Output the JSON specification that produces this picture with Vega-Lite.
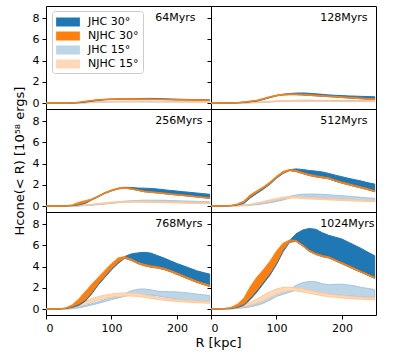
{
"$schema": "https://vega.github.io/schema/vega-lite/v6.json",
"padding": {"left": 12, "top": 5, "right": 5, "bottom": 5},
"bounds": "flush",
"spacing": 0,
"columns": 2,
"data": {"values": [
{"t":"64Myrs","s":"JHC 30°","R":0,"lo":0,"hi":0.01},{"t":"64Myrs","s":"JHC 30°","R":10,"lo":0,"hi":0.01},{"t":"64Myrs","s":"JHC 30°","R":20,"lo":0,"hi":0.01},{"t":"64Myrs","s":"JHC 30°","R":30,"lo":0,"hi":0.01},{"t":"64Myrs","s":"JHC 30°","R":40,"lo":0.01,"hi":0.02},{"t":"64Myrs","s":"JHC 30°","R":50,"lo":0.04,"hi":0.06},{"t":"64Myrs","s":"JHC 30°","R":60,"lo":0.1,"hi":0.13},{"t":"64Myrs","s":"JHC 30°","R":70,"lo":0.18,"hi":0.22},{"t":"64Myrs","s":"JHC 30°","R":80,"lo":0.26,"hi":0.3},{"t":"64Myrs","s":"JHC 30°","R":90,"lo":0.31,"hi":0.35},{"t":"64Myrs","s":"JHC 30°","R":100,"lo":0.34,"hi":0.38},{"t":"64Myrs","s":"JHC 30°","R":110,"lo":0.36,"hi":0.4},{"t":"64Myrs","s":"JHC 30°","R":120,"lo":0.37,"hi":0.41},{"t":"64Myrs","s":"JHC 30°","R":130,"lo":0.37,"hi":0.42},{"t":"64Myrs","s":"JHC 30°","R":140,"lo":0.37,"hi":0.43},{"t":"64Myrs","s":"JHC 30°","R":150,"lo":0.37,"hi":0.45},{"t":"64Myrs","s":"JHC 30°","R":160,"lo":0.36,"hi":0.45},{"t":"64Myrs","s":"JHC 30°","R":170,"lo":0.35,"hi":0.44},{"t":"64Myrs","s":"JHC 30°","R":180,"lo":0.34,"hi":0.42},{"t":"64Myrs","s":"JHC 30°","R":190,"lo":0.33,"hi":0.4},{"t":"64Myrs","s":"JHC 30°","R":200,"lo":0.31,"hi":0.38},{"t":"64Myrs","s":"JHC 30°","R":210,"lo":0.3,"hi":0.36},{"t":"64Myrs","s":"JHC 30°","R":220,"lo":0.29,"hi":0.34},{"t":"64Myrs","s":"JHC 30°","R":230,"lo":0.28,"hi":0.33},{"t":"64Myrs","s":"JHC 30°","R":240,"lo":0.27,"hi":0.32},{"t":"64Myrs","s":"JHC 30°","R":250,"lo":0.26,"hi":0.31},
{"t":"64Myrs","s":"NJHC 30°","R":0,"lo":0,"hi":0.01},{"t":"64Myrs","s":"NJHC 30°","R":10,"lo":0,"hi":0.01},{"t":"64Myrs","s":"NJHC 30°","R":20,"lo":0,"hi":0.01},{"t":"64Myrs","s":"NJHC 30°","R":30,"lo":0,"hi":0.02},{"t":"64Myrs","s":"NJHC 30°","R":40,"lo":0.02,"hi":0.04},{"t":"64Myrs","s":"NJHC 30°","R":50,"lo":0.07,"hi":0.1},{"t":"64Myrs","s":"NJHC 30°","R":60,"lo":0.15,"hi":0.19},{"t":"64Myrs","s":"NJHC 30°","R":70,"lo":0.23,"hi":0.27},{"t":"64Myrs","s":"NJHC 30°","R":80,"lo":0.3,"hi":0.34},{"t":"64Myrs","s":"NJHC 30°","R":90,"lo":0.34,"hi":0.38},{"t":"64Myrs","s":"NJHC 30°","R":100,"lo":0.36,"hi":0.4},{"t":"64Myrs","s":"NJHC 30°","R":110,"lo":0.37,"hi":0.41},{"t":"64Myrs","s":"NJHC 30°","R":120,"lo":0.37,"hi":0.41},{"t":"64Myrs","s":"NJHC 30°","R":130,"lo":0.37,"hi":0.41},{"t":"64Myrs","s":"NJHC 30°","R":140,"lo":0.36,"hi":0.4},{"t":"64Myrs","s":"NJHC 30°","R":150,"lo":0.36,"hi":0.4},{"t":"64Myrs","s":"NJHC 30°","R":160,"lo":0.35,"hi":0.39},{"t":"64Myrs","s":"NJHC 30°","R":170,"lo":0.34,"hi":0.38},{"t":"64Myrs","s":"NJHC 30°","R":180,"lo":0.33,"hi":0.37},{"t":"64Myrs","s":"NJHC 30°","R":190,"lo":0.31,"hi":0.35},{"t":"64Myrs","s":"NJHC 30°","R":200,"lo":0.3,"hi":0.34},{"t":"64Myrs","s":"NJHC 30°","R":210,"lo":0.29,"hi":0.33},{"t":"64Myrs","s":"NJHC 30°","R":220,"lo":0.28,"hi":0.32},{"t":"64Myrs","s":"NJHC 30°","R":230,"lo":0.27,"hi":0.31},{"t":"64Myrs","s":"NJHC 30°","R":240,"lo":0.26,"hi":0.3},{"t":"64Myrs","s":"NJHC 30°","R":250,"lo":0.25,"hi":0.29},
{"t":"64Myrs","s":"JHC 15°","R":0,"lo":0,"hi":0},{"t":"64Myrs","s":"JHC 15°","R":10,"lo":0,"hi":0},{"t":"64Myrs","s":"JHC 15°","R":20,"lo":0,"hi":0},{"t":"64Myrs","s":"JHC 15°","R":30,"lo":0,"hi":0},{"t":"64Myrs","s":"JHC 15°","R":40,"lo":0,"hi":0.01},{"t":"64Myrs","s":"JHC 15°","R":50,"lo":0.01,"hi":0.02},{"t":"64Myrs","s":"JHC 15°","R":60,"lo":0.03,"hi":0.05},{"t":"64Myrs","s":"JHC 15°","R":70,"lo":0.06,"hi":0.09},{"t":"64Myrs","s":"JHC 15°","R":80,"lo":0.09,"hi":0.12},{"t":"64Myrs","s":"JHC 15°","R":90,"lo":0.11,"hi":0.15},{"t":"64Myrs","s":"JHC 15°","R":100,"lo":0.12,"hi":0.17},{"t":"64Myrs","s":"JHC 15°","R":110,"lo":0.13,"hi":0.18},{"t":"64Myrs","s":"JHC 15°","R":120,"lo":0.13,"hi":0.19},{"t":"64Myrs","s":"JHC 15°","R":130,"lo":0.13,"hi":0.2},{"t":"64Myrs","s":"JHC 15°","R":140,"lo":0.13,"hi":0.2},{"t":"64Myrs","s":"JHC 15°","R":150,"lo":0.13,"hi":0.2},{"t":"64Myrs","s":"JHC 15°","R":160,"lo":0.13,"hi":0.2},{"t":"64Myrs","s":"JHC 15°","R":170,"lo":0.13,"hi":0.19},{"t":"64Myrs","s":"JHC 15°","R":180,"lo":0.12,"hi":0.19},{"t":"64Myrs","s":"JHC 15°","R":190,"lo":0.12,"hi":0.18},{"t":"64Myrs","s":"JHC 15°","R":200,"lo":0.12,"hi":0.18},{"t":"64Myrs","s":"JHC 15°","R":210,"lo":0.12,"hi":0.17},{"t":"64Myrs","s":"JHC 15°","R":220,"lo":0.11,"hi":0.17},{"t":"64Myrs","s":"JHC 15°","R":230,"lo":0.11,"hi":0.16},{"t":"64Myrs","s":"JHC 15°","R":240,"lo":0.11,"hi":0.16},{"t":"64Myrs","s":"JHC 15°","R":250,"lo":0.11,"hi":0.16},
{"t":"64Myrs","s":"NJHC 15°","R":0,"lo":0,"hi":0},{"t":"64Myrs","s":"NJHC 15°","R":10,"lo":0,"hi":0},{"t":"64Myrs","s":"NJHC 15°","R":20,"lo":0,"hi":0},{"t":"64Myrs","s":"NJHC 15°","R":30,"lo":0,"hi":0},{"t":"64Myrs","s":"NJHC 15°","R":40,"lo":0,"hi":0.01},{"t":"64Myrs","s":"NJHC 15°","R":50,"lo":0.02,"hi":0.03},{"t":"64Myrs","s":"NJHC 15°","R":60,"lo":0.04,"hi":0.06},{"t":"64Myrs","s":"NJHC 15°","R":70,"lo":0.07,"hi":0.1},{"t":"64Myrs","s":"NJHC 15°","R":80,"lo":0.1,"hi":0.13},{"t":"64Myrs","s":"NJHC 15°","R":90,"lo":0.11,"hi":0.14},{"t":"64Myrs","s":"NJHC 15°","R":100,"lo":0.12,"hi":0.15},{"t":"64Myrs","s":"NJHC 15°","R":110,"lo":0.12,"hi":0.15},{"t":"64Myrs","s":"NJHC 15°","R":120,"lo":0.12,"hi":0.15},{"t":"64Myrs","s":"NJHC 15°","R":130,"lo":0.12,"hi":0.15},{"t":"64Myrs","s":"NJHC 15°","R":140,"lo":0.12,"hi":0.15},{"t":"64Myrs","s":"NJHC 15°","R":150,"lo":0.12,"hi":0.15},{"t":"64Myrs","s":"NJHC 15°","R":160,"lo":0.11,"hi":0.14},{"t":"64Myrs","s":"NJHC 15°","R":170,"lo":0.11,"hi":0.14},{"t":"64Myrs","s":"NJHC 15°","R":180,"lo":0.11,"hi":0.14},{"t":"64Myrs","s":"NJHC 15°","R":190,"lo":0.11,"hi":0.14},{"t":"64Myrs","s":"NJHC 15°","R":200,"lo":0.1,"hi":0.13},{"t":"64Myrs","s":"NJHC 15°","R":210,"lo":0.1,"hi":0.13},{"t":"64Myrs","s":"NJHC 15°","R":220,"lo":0.1,"hi":0.13},{"t":"64Myrs","s":"NJHC 15°","R":230,"lo":0.1,"hi":0.13},{"t":"64Myrs","s":"NJHC 15°","R":240,"lo":0.1,"hi":0.13},{"t":"64Myrs","s":"NJHC 15°","R":250,"lo":0.1,"hi":0.13},

{"t":"128Myrs","s":"JHC 30°","R":0,"lo":0,"hi":0.02},{"t":"128Myrs","s":"JHC 30°","R":10,"lo":0,"hi":0.02},{"t":"128Myrs","s":"JHC 30°","R":20,"lo":0,"hi":0.02},{"t":"128Myrs","s":"JHC 30°","R":30,"lo":0.01,"hi":0.03},{"t":"128Myrs","s":"JHC 30°","R":40,"lo":0.02,"hi":0.05},{"t":"128Myrs","s":"JHC 30°","R":50,"lo":0.06,"hi":0.1},{"t":"128Myrs","s":"JHC 30°","R":60,"lo":0.12,"hi":0.17},{"t":"128Myrs","s":"JHC 30°","R":70,"lo":0.19,"hi":0.24},{"t":"128Myrs","s":"JHC 30°","R":80,"lo":0.34,"hi":0.4},{"t":"128Myrs","s":"JHC 30°","R":90,"lo":0.52,"hi":0.58},{"t":"128Myrs","s":"JHC 30°","R":100,"lo":0.68,"hi":0.73},{"t":"128Myrs","s":"JHC 30°","R":110,"lo":0.77,"hi":0.84},{"t":"128Myrs","s":"JHC 30°","R":120,"lo":0.8,"hi":0.91},{"t":"128Myrs","s":"JHC 30°","R":130,"lo":0.8,"hi":0.95},{"t":"128Myrs","s":"JHC 30°","R":140,"lo":0.77,"hi":0.96},{"t":"128Myrs","s":"JHC 30°","R":150,"lo":0.73,"hi":0.93},{"t":"128Myrs","s":"JHC 30°","R":160,"lo":0.69,"hi":0.88},{"t":"128Myrs","s":"JHC 30°","R":170,"lo":0.65,"hi":0.83},{"t":"128Myrs","s":"JHC 30°","R":180,"lo":0.61,"hi":0.78},{"t":"128Myrs","s":"JHC 30°","R":190,"lo":0.57,"hi":0.74},{"t":"128Myrs","s":"JHC 30°","R":200,"lo":0.53,"hi":0.71},{"t":"128Myrs","s":"JHC 30°","R":210,"lo":0.49,"hi":0.68},{"t":"128Myrs","s":"JHC 30°","R":220,"lo":0.45,"hi":0.66},{"t":"128Myrs","s":"JHC 30°","R":230,"lo":0.41,"hi":0.64},{"t":"128Myrs","s":"JHC 30°","R":240,"lo":0.37,"hi":0.62},{"t":"128Myrs","s":"JHC 30°","R":250,"lo":0.34,"hi":0.6},
{"t":"128Myrs","s":"NJHC 30°","R":0,"lo":0,"hi":0.02},{"t":"128Myrs","s":"NJHC 30°","R":10,"lo":0,"hi":0.02},{"t":"128Myrs","s":"NJHC 30°","R":20,"lo":0,"hi":0.02},{"t":"128Myrs","s":"NJHC 30°","R":30,"lo":0.01,"hi":0.03},{"t":"128Myrs","s":"NJHC 30°","R":40,"lo":0.03,"hi":0.06},{"t":"128Myrs","s":"NJHC 30°","R":50,"lo":0.08,"hi":0.12},{"t":"128Myrs","s":"NJHC 30°","R":60,"lo":0.15,"hi":0.2},{"t":"128Myrs","s":"NJHC 30°","R":70,"lo":0.22,"hi":0.27},{"t":"128Myrs","s":"NJHC 30°","R":80,"lo":0.38,"hi":0.45},{"t":"128Myrs","s":"NJHC 30°","R":90,"lo":0.55,"hi":0.62},{"t":"128Myrs","s":"NJHC 30°","R":100,"lo":0.69,"hi":0.76},{"t":"128Myrs","s":"NJHC 30°","R":110,"lo":0.77,"hi":0.84},{"t":"128Myrs","s":"NJHC 30°","R":120,"lo":0.8,"hi":0.87},{"t":"128Myrs","s":"NJHC 30°","R":130,"lo":0.8,"hi":0.87},{"t":"128Myrs","s":"NJHC 30°","R":140,"lo":0.77,"hi":0.84},{"t":"128Myrs","s":"NJHC 30°","R":150,"lo":0.73,"hi":0.8},{"t":"128Myrs","s":"NJHC 30°","R":160,"lo":0.69,"hi":0.76},{"t":"128Myrs","s":"NJHC 30°","R":170,"lo":0.65,"hi":0.72},{"t":"128Myrs","s":"NJHC 30°","R":180,"lo":0.61,"hi":0.68},{"t":"128Myrs","s":"NJHC 30°","R":190,"lo":0.57,"hi":0.64},{"t":"128Myrs","s":"NJHC 30°","R":200,"lo":0.53,"hi":0.6},{"t":"128Myrs","s":"NJHC 30°","R":210,"lo":0.49,"hi":0.56},{"t":"128Myrs","s":"NJHC 30°","R":220,"lo":0.45,"hi":0.52},{"t":"128Myrs","s":"NJHC 30°","R":230,"lo":0.41,"hi":0.48},{"t":"128Myrs","s":"NJHC 30°","R":240,"lo":0.37,"hi":0.44},{"t":"128Myrs","s":"NJHC 30°","R":250,"lo":0.34,"hi":0.41},
{"t":"128Myrs","s":"JHC 15°","R":0,"lo":0,"hi":0},{"t":"128Myrs","s":"JHC 15°","R":10,"lo":0,"hi":0},{"t":"128Myrs","s":"JHC 15°","R":20,"lo":0,"hi":0},{"t":"128Myrs","s":"JHC 15°","R":30,"lo":0,"hi":0.01},{"t":"128Myrs","s":"JHC 15°","R":40,"lo":0,"hi":0.01},{"t":"128Myrs","s":"JHC 15°","R":50,"lo":0.01,"hi":0.03},{"t":"128Myrs","s":"JHC 15°","R":60,"lo":0.03,"hi":0.05},{"t":"128Myrs","s":"JHC 15°","R":70,"lo":0.05,"hi":0.08},{"t":"128Myrs","s":"JHC 15°","R":80,"lo":0.08,"hi":0.11},{"t":"128Myrs","s":"JHC 15°","R":90,"lo":0.11,"hi":0.15},{"t":"128Myrs","s":"JHC 15°","R":100,"lo":0.14,"hi":0.19},{"t":"128Myrs","s":"JHC 15°","R":110,"lo":0.17,"hi":0.22},{"t":"128Myrs","s":"JHC 15°","R":120,"lo":0.19,"hi":0.25},{"t":"128Myrs","s":"JHC 15°","R":130,"lo":0.2,"hi":0.27},{"t":"128Myrs","s":"JHC 15°","R":140,"lo":0.2,"hi":0.28},{"t":"128Myrs","s":"JHC 15°","R":150,"lo":0.2,"hi":0.28},{"t":"128Myrs","s":"JHC 15°","R":160,"lo":0.19,"hi":0.27},{"t":"128Myrs","s":"JHC 15°","R":170,"lo":0.19,"hi":0.26},{"t":"128Myrs","s":"JHC 15°","R":180,"lo":0.18,"hi":0.26},{"t":"128Myrs","s":"JHC 15°","R":190,"lo":0.18,"hi":0.25},{"t":"128Myrs","s":"JHC 15°","R":200,"lo":0.17,"hi":0.25},{"t":"128Myrs","s":"JHC 15°","R":210,"lo":0.17,"hi":0.24},{"t":"128Myrs","s":"JHC 15°","R":220,"lo":0.16,"hi":0.24},{"t":"128Myrs","s":"JHC 15°","R":230,"lo":0.16,"hi":0.23},{"t":"128Myrs","s":"JHC 15°","R":240,"lo":0.16,"hi":0.23},{"t":"128Myrs","s":"JHC 15°","R":250,"lo":0.15,"hi":0.22},
{"t":"128Myrs","s":"NJHC 15°","R":0,"lo":0,"hi":0},{"t":"128Myrs","s":"NJHC 15°","R":10,"lo":0,"hi":0},{"t":"128Myrs","s":"NJHC 15°","R":20,"lo":0,"hi":0},{"t":"128Myrs","s":"NJHC 15°","R":30,"lo":0,"hi":0.01},{"t":"128Myrs","s":"NJHC 15°","R":40,"lo":0.01,"hi":0.02},{"t":"128Myrs","s":"NJHC 15°","R":50,"lo":0.02,"hi":0.04},{"t":"128Myrs","s":"NJHC 15°","R":60,"lo":0.04,"hi":0.07},{"t":"128Myrs","s":"NJHC 15°","R":70,"lo":0.07,"hi":0.1},{"t":"128Myrs","s":"NJHC 15°","R":80,"lo":0.1,"hi":0.14},{"t":"128Myrs","s":"NJHC 15°","R":90,"lo":0.13,"hi":0.18},{"t":"128Myrs","s":"NJHC 15°","R":100,"lo":0.16,"hi":0.22},{"t":"128Myrs","s":"NJHC 15°","R":110,"lo":0.18,"hi":0.24},{"t":"128Myrs","s":"NJHC 15°","R":120,"lo":0.19,"hi":0.25},{"t":"128Myrs","s":"NJHC 15°","R":130,"lo":0.19,"hi":0.25},{"t":"128Myrs","s":"NJHC 15°","R":140,"lo":0.18,"hi":0.24},{"t":"128Myrs","s":"NJHC 15°","R":150,"lo":0.17,"hi":0.23},{"t":"128Myrs","s":"NJHC 15°","R":160,"lo":0.17,"hi":0.22},{"t":"128Myrs","s":"NJHC 15°","R":170,"lo":0.16,"hi":0.21},{"t":"128Myrs","s":"NJHC 15°","R":180,"lo":0.16,"hi":0.21},{"t":"128Myrs","s":"NJHC 15°","R":190,"lo":0.15,"hi":0.2},{"t":"128Myrs","s":"NJHC 15°","R":200,"lo":0.15,"hi":0.2},{"t":"128Myrs","s":"NJHC 15°","R":210,"lo":0.14,"hi":0.19},{"t":"128Myrs","s":"NJHC 15°","R":220,"lo":0.14,"hi":0.19},{"t":"128Myrs","s":"NJHC 15°","R":230,"lo":0.14,"hi":0.18},{"t":"128Myrs","s":"NJHC 15°","R":240,"lo":0.13,"hi":0.18},{"t":"128Myrs","s":"NJHC 15°","R":250,"lo":0.13,"hi":0.18},

{"t":"256Myrs","s":"JHC 30°","R":0,"lo":0,"hi":0.02},{"t":"256Myrs","s":"JHC 30°","R":10,"lo":0,"hi":0.02},{"t":"256Myrs","s":"JHC 30°","R":20,"lo":0,"hi":0.02},{"t":"256Myrs","s":"JHC 30°","R":30,"lo":0.01,"hi":0.03},{"t":"256Myrs","s":"JHC 30°","R":40,"lo":0.04,"hi":0.08},{"t":"256Myrs","s":"JHC 30°","R":50,"lo":0.12,"hi":0.17},{"t":"256Myrs","s":"JHC 30°","R":60,"lo":0.26,"hi":0.32},{"t":"256Myrs","s":"JHC 30°","R":70,"lo":0.58,"hi":0.65},{"t":"256Myrs","s":"JHC 30°","R":80,"lo":0.88,"hi":0.96},{"t":"256Myrs","s":"JHC 30°","R":90,"lo":1.2,"hi":1.27},{"t":"256Myrs","s":"JHC 30°","R":100,"lo":1.43,"hi":1.5},{"t":"256Myrs","s":"JHC 30°","R":110,"lo":1.62,"hi":1.68},{"t":"256Myrs","s":"JHC 30°","R":120,"lo":1.7,"hi":1.78},{"t":"256Myrs","s":"JHC 30°","R":130,"lo":1.61,"hi":1.76},{"t":"256Myrs","s":"JHC 30°","R":140,"lo":1.49,"hi":1.71},{"t":"256Myrs","s":"JHC 30°","R":150,"lo":1.36,"hi":1.69},{"t":"256Myrs","s":"JHC 30°","R":160,"lo":1.3,"hi":1.67},{"t":"256Myrs","s":"JHC 30°","R":170,"lo":1.24,"hi":1.62},{"t":"256Myrs","s":"JHC 30°","R":180,"lo":1.18,"hi":1.55},{"t":"256Myrs","s":"JHC 30°","R":190,"lo":1.11,"hi":1.48},{"t":"256Myrs","s":"JHC 30°","R":200,"lo":1.05,"hi":1.42},{"t":"256Myrs","s":"JHC 30°","R":210,"lo":0.99,"hi":1.36},{"t":"256Myrs","s":"JHC 30°","R":220,"lo":0.93,"hi":1.3},{"t":"256Myrs","s":"JHC 30°","R":230,"lo":0.86,"hi":1.24},{"t":"256Myrs","s":"JHC 30°","R":240,"lo":0.8,"hi":1.18},{"t":"256Myrs","s":"JHC 30°","R":250,"lo":0.74,"hi":1.12},
{"t":"256Myrs","s":"NJHC 30°","R":0,"lo":0,"hi":0.02},{"t":"256Myrs","s":"NJHC 30°","R":10,"lo":0,"hi":0.02},{"t":"256Myrs","s":"NJHC 30°","R":20,"lo":0,"hi":0.02},{"t":"256Myrs","s":"NJHC 30°","R":30,"lo":0.01,"hi":0.04},{"t":"256Myrs","s":"NJHC 30°","R":40,"lo":0.06,"hi":0.12},{"t":"256Myrs","s":"NJHC 30°","R":50,"lo":0.2,"hi":0.36},{"t":"256Myrs","s":"NJHC 30°","R":60,"lo":0.36,"hi":0.52},{"t":"256Myrs","s":"NJHC 30°","R":70,"lo":0.6,"hi":0.67},{"t":"256Myrs","s":"NJHC 30°","R":80,"lo":0.9,"hi":0.97},{"t":"256Myrs","s":"NJHC 30°","R":90,"lo":1.22,"hi":1.29},{"t":"256Myrs","s":"NJHC 30°","R":100,"lo":1.45,"hi":1.52},{"t":"256Myrs","s":"NJHC 30°","R":110,"lo":1.63,"hi":1.7},{"t":"256Myrs","s":"NJHC 30°","R":120,"lo":1.7,"hi":1.76},{"t":"256Myrs","s":"NJHC 30°","R":130,"lo":1.61,"hi":1.67},{"t":"256Myrs","s":"NJHC 30°","R":140,"lo":1.49,"hi":1.55},{"t":"256Myrs","s":"NJHC 30°","R":150,"lo":1.36,"hi":1.42},{"t":"256Myrs","s":"NJHC 30°","R":160,"lo":1.3,"hi":1.36},{"t":"256Myrs","s":"NJHC 30°","R":170,"lo":1.24,"hi":1.3},{"t":"256Myrs","s":"NJHC 30°","R":180,"lo":1.18,"hi":1.24},{"t":"256Myrs","s":"NJHC 30°","R":190,"lo":1.11,"hi":1.17},{"t":"256Myrs","s":"NJHC 30°","R":200,"lo":1.05,"hi":1.11},{"t":"256Myrs","s":"NJHC 30°","R":210,"lo":0.99,"hi":1.05},{"t":"256Myrs","s":"NJHC 30°","R":220,"lo":0.93,"hi":0.99},{"t":"256Myrs","s":"NJHC 30°","R":230,"lo":0.86,"hi":0.92},{"t":"256Myrs","s":"NJHC 30°","R":240,"lo":0.8,"hi":0.86},{"t":"256Myrs","s":"NJHC 30°","R":250,"lo":0.74,"hi":0.8},
{"t":"256Myrs","s":"JHC 15°","R":0,"lo":0,"hi":0},{"t":"256Myrs","s":"JHC 15°","R":10,"lo":0,"hi":0},{"t":"256Myrs","s":"JHC 15°","R":20,"lo":0,"hi":0},{"t":"256Myrs","s":"JHC 15°","R":30,"lo":0,"hi":0.01},{"t":"256Myrs","s":"JHC 15°","R":40,"lo":0.01,"hi":0.02},{"t":"256Myrs","s":"JHC 15°","R":50,"lo":0.02,"hi":0.04},{"t":"256Myrs","s":"JHC 15°","R":60,"lo":0.05,"hi":0.08},{"t":"256Myrs","s":"JHC 15°","R":70,"lo":0.09,"hi":0.13},{"t":"256Myrs","s":"JHC 15°","R":80,"lo":0.14,"hi":0.19},{"t":"256Myrs","s":"JHC 15°","R":90,"lo":0.2,"hi":0.26},{"t":"256Myrs","s":"JHC 15°","R":100,"lo":0.26,"hi":0.33},{"t":"256Myrs","s":"JHC 15°","R":110,"lo":0.32,"hi":0.4},{"t":"256Myrs","s":"JHC 15°","R":120,"lo":0.37,"hi":0.46},{"t":"256Myrs","s":"JHC 15°","R":130,"lo":0.4,"hi":0.51},{"t":"256Myrs","s":"JHC 15°","R":140,"lo":0.41,"hi":0.54},{"t":"256Myrs","s":"JHC 15°","R":150,"lo":0.41,"hi":0.56},{"t":"256Myrs","s":"JHC 15°","R":160,"lo":0.4,"hi":0.56},{"t":"256Myrs","s":"JHC 15°","R":170,"lo":0.39,"hi":0.56},{"t":"256Myrs","s":"JHC 15°","R":180,"lo":0.37,"hi":0.55},{"t":"256Myrs","s":"JHC 15°","R":190,"lo":0.36,"hi":0.53},{"t":"256Myrs","s":"JHC 15°","R":200,"lo":0.34,"hi":0.51},{"t":"256Myrs","s":"JHC 15°","R":210,"lo":0.33,"hi":0.49},{"t":"256Myrs","s":"JHC 15°","R":220,"lo":0.31,"hi":0.47},{"t":"256Myrs","s":"JHC 15°","R":230,"lo":0.3,"hi":0.45},{"t":"256Myrs","s":"JHC 15°","R":240,"lo":0.29,"hi":0.43},{"t":"256Myrs","s":"JHC 15°","R":250,"lo":0.28,"hi":0.41},
{"t":"256Myrs","s":"NJHC 15°","R":0,"lo":0,"hi":0},{"t":"256Myrs","s":"NJHC 15°","R":10,"lo":0,"hi":0},{"t":"256Myrs","s":"NJHC 15°","R":20,"lo":0,"hi":0},{"t":"256Myrs","s":"NJHC 15°","R":30,"lo":0,"hi":0.01},{"t":"256Myrs","s":"NJHC 15°","R":40,"lo":0.01,"hi":0.03},{"t":"256Myrs","s":"NJHC 15°","R":50,"lo":0.04,"hi":0.07},{"t":"256Myrs","s":"NJHC 15°","R":60,"lo":0.08,"hi":0.12},{"t":"256Myrs","s":"NJHC 15°","R":70,"lo":0.13,"hi":0.18},{"t":"256Myrs","s":"NJHC 15°","R":80,"lo":0.19,"hi":0.25},{"t":"256Myrs","s":"NJHC 15°","R":90,"lo":0.25,"hi":0.32},{"t":"256Myrs","s":"NJHC 15°","R":100,"lo":0.3,"hi":0.38},{"t":"256Myrs","s":"NJHC 15°","R":110,"lo":0.34,"hi":0.43},{"t":"256Myrs","s":"NJHC 15°","R":120,"lo":0.37,"hi":0.46},{"t":"256Myrs","s":"NJHC 15°","R":130,"lo":0.38,"hi":0.47},{"t":"256Myrs","s":"NJHC 15°","R":140,"lo":0.38,"hi":0.47},{"t":"256Myrs","s":"NJHC 15°","R":150,"lo":0.37,"hi":0.46},{"t":"256Myrs","s":"NJHC 15°","R":160,"lo":0.36,"hi":0.45},{"t":"256Myrs","s":"NJHC 15°","R":170,"lo":0.35,"hi":0.43},{"t":"256Myrs","s":"NJHC 15°","R":180,"lo":0.33,"hi":0.42},{"t":"256Myrs","s":"NJHC 15°","R":190,"lo":0.32,"hi":0.4},{"t":"256Myrs","s":"NJHC 15°","R":200,"lo":0.3,"hi":0.38},{"t":"256Myrs","s":"NJHC 15°","R":210,"lo":0.29,"hi":0.37},{"t":"256Myrs","s":"NJHC 15°","R":220,"lo":0.28,"hi":0.35},{"t":"256Myrs","s":"NJHC 15°","R":230,"lo":0.27,"hi":0.34},{"t":"256Myrs","s":"NJHC 15°","R":240,"lo":0.26,"hi":0.32},{"t":"256Myrs","s":"NJHC 15°","R":250,"lo":0.25,"hi":0.31},

{"t":"512Myrs","s":"JHC 30°","R":0,"lo":0,"hi":0.02},{"t":"512Myrs","s":"JHC 30°","R":10,"lo":0,"hi":0.02},{"t":"512Myrs","s":"JHC 30°","R":20,"lo":0.01,"hi":0.02},{"t":"512Myrs","s":"JHC 30°","R":30,"lo":0.03,"hi":0.05},{"t":"512Myrs","s":"JHC 30°","R":40,"lo":0.1,"hi":0.16},{"t":"512Myrs","s":"JHC 30°","R":50,"lo":0.24,"hi":0.32},{"t":"512Myrs","s":"JHC 30°","R":60,"lo":0.78,"hi":0.9},{"t":"512Myrs","s":"JHC 30°","R":70,"lo":1.2,"hi":1.32},{"t":"512Myrs","s":"JHC 30°","R":80,"lo":1.6,"hi":1.72},{"t":"512Myrs","s":"JHC 30°","R":90,"lo":2.06,"hi":2.18},{"t":"512Myrs","s":"JHC 30°","R":100,"lo":2.62,"hi":2.74},{"t":"512Myrs","s":"JHC 30°","R":110,"lo":3.08,"hi":3.2},{"t":"512Myrs","s":"JHC 30°","R":120,"lo":3.35,"hi":3.43},{"t":"512Myrs","s":"JHC 30°","R":130,"lo":3.26,"hi":3.51},{"t":"512Myrs","s":"JHC 30°","R":140,"lo":3.07,"hi":3.45},{"t":"512Myrs","s":"JHC 30°","R":150,"lo":2.89,"hi":3.36},{"t":"512Myrs","s":"JHC 30°","R":160,"lo":2.76,"hi":3.3},{"t":"512Myrs","s":"JHC 30°","R":170,"lo":2.67,"hi":3.22},{"t":"512Myrs","s":"JHC 30°","R":180,"lo":2.57,"hi":3.08},{"t":"512Myrs","s":"JHC 30°","R":190,"lo":2.35,"hi":2.92},{"t":"512Myrs","s":"JHC 30°","R":200,"lo":2.17,"hi":2.77},{"t":"512Myrs","s":"JHC 30°","R":210,"lo":2.01,"hi":2.62},{"t":"512Myrs","s":"JHC 30°","R":220,"lo":1.85,"hi":2.49},{"t":"512Myrs","s":"JHC 30°","R":230,"lo":1.7,"hi":2.36},{"t":"512Myrs","s":"JHC 30°","R":240,"lo":1.54,"hi":2.2},{"t":"512Myrs","s":"JHC 30°","R":250,"lo":1.36,"hi":2.08},
{"t":"512Myrs","s":"NJHC 30°","R":0,"lo":0,"hi":0.02},{"t":"512Myrs","s":"NJHC 30°","R":10,"lo":0,"hi":0.02},{"t":"512Myrs","s":"NJHC 30°","R":20,"lo":0.01,"hi":0.03},{"t":"512Myrs","s":"NJHC 30°","R":30,"lo":0.04,"hi":0.07},{"t":"512Myrs","s":"NJHC 30°","R":40,"lo":0.14,"hi":0.2},{"t":"512Myrs","s":"NJHC 30°","R":50,"lo":0.36,"hi":0.48},{"t":"512Myrs","s":"NJHC 30°","R":60,"lo":0.9,"hi":1.07},{"t":"512Myrs","s":"NJHC 30°","R":70,"lo":1.32,"hi":1.44},{"t":"512Myrs","s":"NJHC 30°","R":80,"lo":1.7,"hi":1.82},{"t":"512Myrs","s":"NJHC 30°","R":90,"lo":2.15,"hi":2.27},{"t":"512Myrs","s":"NJHC 30°","R":100,"lo":2.7,"hi":2.82},{"t":"512Myrs","s":"NJHC 30°","R":110,"lo":3.15,"hi":3.27},{"t":"512Myrs","s":"NJHC 30°","R":120,"lo":3.35,"hi":3.45},{"t":"512Myrs","s":"NJHC 30°","R":130,"lo":3.26,"hi":3.36},{"t":"512Myrs","s":"NJHC 30°","R":140,"lo":3.07,"hi":3.17},{"t":"512Myrs","s":"NJHC 30°","R":150,"lo":2.89,"hi":2.99},{"t":"512Myrs","s":"NJHC 30°","R":160,"lo":2.76,"hi":2.86},{"t":"512Myrs","s":"NJHC 30°","R":170,"lo":2.67,"hi":2.77},{"t":"512Myrs","s":"NJHC 30°","R":180,"lo":2.57,"hi":2.67},{"t":"512Myrs","s":"NJHC 30°","R":190,"lo":2.35,"hi":2.45},{"t":"512Myrs","s":"NJHC 30°","R":200,"lo":2.17,"hi":2.27},{"t":"512Myrs","s":"NJHC 30°","R":210,"lo":2.01,"hi":2.11},{"t":"512Myrs","s":"NJHC 30°","R":220,"lo":1.85,"hi":1.95},{"t":"512Myrs","s":"NJHC 30°","R":230,"lo":1.7,"hi":1.8},{"t":"512Myrs","s":"NJHC 30°","R":240,"lo":1.54,"hi":1.64},{"t":"512Myrs","s":"NJHC 30°","R":250,"lo":1.36,"hi":1.46},
{"t":"512Myrs","s":"JHC 15°","R":0,"lo":0,"hi":0},{"t":"512Myrs","s":"JHC 15°","R":10,"lo":0,"hi":0},{"t":"512Myrs","s":"JHC 15°","R":20,"lo":0,"hi":0.01},{"t":"512Myrs","s":"JHC 15°","R":30,"lo":0.01,"hi":0.02},{"t":"512Myrs","s":"JHC 15°","R":40,"lo":0.02,"hi":0.04},{"t":"512Myrs","s":"JHC 15°","R":50,"lo":0.04,"hi":0.07},{"t":"512Myrs","s":"JHC 15°","R":60,"lo":0.08,"hi":0.12},{"t":"512Myrs","s":"JHC 15°","R":70,"lo":0.14,"hi":0.2},{"t":"512Myrs","s":"JHC 15°","R":80,"lo":0.22,"hi":0.3},{"t":"512Myrs","s":"JHC 15°","R":90,"lo":0.32,"hi":0.42},{"t":"512Myrs","s":"JHC 15°","R":100,"lo":0.44,"hi":0.56},{"t":"512Myrs","s":"JHC 15°","R":110,"lo":0.58,"hi":0.72},{"t":"512Myrs","s":"JHC 15°","R":120,"lo":0.76,"hi":0.92},{"t":"512Myrs","s":"JHC 15°","R":130,"lo":0.86,"hi":1.05},{"t":"512Myrs","s":"JHC 15°","R":140,"lo":0.88,"hi":1.12},{"t":"512Myrs","s":"JHC 15°","R":150,"lo":0.86,"hi":1.14},{"t":"512Myrs","s":"JHC 15°","R":160,"lo":0.82,"hi":1.14},{"t":"512Myrs","s":"JHC 15°","R":170,"lo":0.78,"hi":1.11},{"t":"512Myrs","s":"JHC 15°","R":180,"lo":0.74,"hi":1.07},{"t":"512Myrs","s":"JHC 15°","R":190,"lo":0.7,"hi":1.02},{"t":"512Myrs","s":"JHC 15°","R":200,"lo":0.66,"hi":0.98},{"t":"512Myrs","s":"JHC 15°","R":210,"lo":0.62,"hi":0.93},{"t":"512Myrs","s":"JHC 15°","R":220,"lo":0.58,"hi":0.88},{"t":"512Myrs","s":"JHC 15°","R":230,"lo":0.55,"hi":0.83},{"t":"512Myrs","s":"JHC 15°","R":240,"lo":0.52,"hi":0.78},{"t":"512Myrs","s":"JHC 15°","R":250,"lo":0.49,"hi":0.74},
{"t":"512Myrs","s":"NJHC 15°","R":0,"lo":0,"hi":0},{"t":"512Myrs","s":"NJHC 15°","R":10,"lo":0,"hi":0},{"t":"512Myrs","s":"NJHC 15°","R":20,"lo":0,"hi":0.01},{"t":"512Myrs","s":"NJHC 15°","R":30,"lo":0.01,"hi":0.02},{"t":"512Myrs","s":"NJHC 15°","R":40,"lo":0.03,"hi":0.05},{"t":"512Myrs","s":"NJHC 15°","R":50,"lo":0.06,"hi":0.1},{"t":"512Myrs","s":"NJHC 15°","R":60,"lo":0.12,"hi":0.18},{"t":"512Myrs","s":"NJHC 15°","R":70,"lo":0.22,"hi":0.3},{"t":"512Myrs","s":"NJHC 15°","R":80,"lo":0.35,"hi":0.45},{"t":"512Myrs","s":"NJHC 15°","R":90,"lo":0.47,"hi":0.58},{"t":"512Myrs","s":"NJHC 15°","R":100,"lo":0.6,"hi":0.72},{"t":"512Myrs","s":"NJHC 15°","R":110,"lo":0.71,"hi":0.84},{"t":"512Myrs","s":"NJHC 15°","R":120,"lo":0.78,"hi":0.92},{"t":"512Myrs","s":"NJHC 15°","R":130,"lo":0.76,"hi":0.9},{"t":"512Myrs","s":"NJHC 15°","R":140,"lo":0.72,"hi":0.86},{"t":"512Myrs","s":"NJHC 15°","R":150,"lo":0.68,"hi":0.82},{"t":"512Myrs","s":"NJHC 15°","R":160,"lo":0.65,"hi":0.78},{"t":"512Myrs","s":"NJHC 15°","R":170,"lo":0.62,"hi":0.75},{"t":"512Myrs","s":"NJHC 15°","R":180,"lo":0.59,"hi":0.72},{"t":"512Myrs","s":"NJHC 15°","R":190,"lo":0.56,"hi":0.69},{"t":"512Myrs","s":"NJHC 15°","R":200,"lo":0.53,"hi":0.66},{"t":"512Myrs","s":"NJHC 15°","R":210,"lo":0.51,"hi":0.63},{"t":"512Myrs","s":"NJHC 15°","R":220,"lo":0.48,"hi":0.6},{"t":"512Myrs","s":"NJHC 15°","R":230,"lo":0.46,"hi":0.57},{"t":"512Myrs","s":"NJHC 15°","R":240,"lo":0.44,"hi":0.54},{"t":"512Myrs","s":"NJHC 15°","R":250,"lo":0.42,"hi":0.52},

{"t":"768Myrs","s":"JHC 30°","R":0,"lo":0,"hi":0.02},{"t":"768Myrs","s":"JHC 30°","R":10,"lo":0,"hi":0.02},{"t":"768Myrs","s":"JHC 30°","R":20,"lo":0.01,"hi":0.03},{"t":"768Myrs","s":"JHC 30°","R":30,"lo":0.05,"hi":0.08},{"t":"768Myrs","s":"JHC 30°","R":40,"lo":0.15,"hi":0.25},{"t":"768Myrs","s":"JHC 30°","R":50,"lo":0.35,"hi":0.5},{"t":"768Myrs","s":"JHC 30°","R":60,"lo":0.75,"hi":0.9},{"t":"768Myrs","s":"JHC 30°","R":70,"lo":1.45,"hi":1.6},{"t":"768Myrs","s":"JHC 30°","R":80,"lo":2.3,"hi":2.45},{"t":"768Myrs","s":"JHC 30°","R":90,"lo":3.0,"hi":3.15},{"t":"768Myrs","s":"JHC 30°","R":100,"lo":3.7,"hi":3.85},{"t":"768Myrs","s":"JHC 30°","R":110,"lo":4.3,"hi":4.45},{"t":"768Myrs","s":"JHC 30°","R":120,"lo":4.8,"hi":4.95},{"t":"768Myrs","s":"JHC 30°","R":130,"lo":4.6,"hi":5.2},{"t":"768Myrs","s":"JHC 30°","R":140,"lo":4.3,"hi":5.3},{"t":"768Myrs","s":"JHC 30°","R":150,"lo":4.1,"hi":5.35},{"t":"768Myrs","s":"JHC 30°","R":160,"lo":3.96,"hi":5.28},{"t":"768Myrs","s":"JHC 30°","R":170,"lo":3.88,"hi":5.05},{"t":"768Myrs","s":"JHC 30°","R":180,"lo":3.74,"hi":4.82},{"t":"768Myrs","s":"JHC 30°","R":190,"lo":3.53,"hi":4.56},{"t":"768Myrs","s":"JHC 30°","R":200,"lo":3.28,"hi":4.3},{"t":"768Myrs","s":"JHC 30°","R":210,"lo":3.03,"hi":4.08},{"t":"768Myrs","s":"JHC 30°","R":220,"lo":2.78,"hi":3.85},{"t":"768Myrs","s":"JHC 30°","R":230,"lo":2.53,"hi":3.62},{"t":"768Myrs","s":"JHC 30°","R":240,"lo":2.33,"hi":3.45},{"t":"768Myrs","s":"JHC 30°","R":250,"lo":2.13,"hi":3.3},
{"t":"768Myrs","s":"NJHC 30°","R":0,"lo":0,"hi":0.02},{"t":"768Myrs","s":"NJHC 30°","R":10,"lo":0,"hi":0.02},{"t":"768Myrs","s":"NJHC 30°","R":20,"lo":0.02,"hi":0.04},{"t":"768Myrs","s":"NJHC 30°","R":30,"lo":0.08,"hi":0.12},{"t":"768Myrs","s":"NJHC 30°","R":40,"lo":0.25,"hi":0.4},{"t":"768Myrs","s":"NJHC 30°","R":50,"lo":0.5,"hi":0.95},{"t":"768Myrs","s":"NJHC 30°","R":60,"lo":0.9,"hi":1.65},{"t":"768Myrs","s":"NJHC 30°","R":70,"lo":1.6,"hi":2.35},{"t":"768Myrs","s":"NJHC 30°","R":80,"lo":2.45,"hi":3.0},{"t":"768Myrs","s":"NJHC 30°","R":90,"lo":3.15,"hi":3.65},{"t":"768Myrs","s":"NJHC 30°","R":100,"lo":3.85,"hi":4.28},{"t":"768Myrs","s":"NJHC 30°","R":110,"lo":4.45,"hi":4.82},{"t":"768Myrs","s":"NJHC 30°","R":120,"lo":4.85,"hi":4.95},{"t":"768Myrs","s":"NJHC 30°","R":130,"lo":4.6,"hi":4.72},{"t":"768Myrs","s":"NJHC 30°","R":140,"lo":4.3,"hi":4.42},{"t":"768Myrs","s":"NJHC 30°","R":150,"lo":4.1,"hi":4.22},{"t":"768Myrs","s":"NJHC 30°","R":160,"lo":3.96,"hi":4.08},{"t":"768Myrs","s":"NJHC 30°","R":170,"lo":3.88,"hi":4.0},{"t":"768Myrs","s":"NJHC 30°","R":180,"lo":3.74,"hi":3.86},{"t":"768Myrs","s":"NJHC 30°","R":190,"lo":3.53,"hi":3.65},{"t":"768Myrs","s":"NJHC 30°","R":200,"lo":3.28,"hi":3.4},{"t":"768Myrs","s":"NJHC 30°","R":210,"lo":3.03,"hi":3.15},{"t":"768Myrs","s":"NJHC 30°","R":220,"lo":2.78,"hi":2.9},{"t":"768Myrs","s":"NJHC 30°","R":230,"lo":2.53,"hi":2.65},{"t":"768Myrs","s":"NJHC 30°","R":240,"lo":2.33,"hi":2.45},{"t":"768Myrs","s":"NJHC 30°","R":250,"lo":2.13,"hi":2.25},
{"t":"768Myrs","s":"JHC 15°","R":0,"lo":0,"hi":0},{"t":"768Myrs","s":"JHC 15°","R":10,"lo":0,"hi":0.01},{"t":"768Myrs","s":"JHC 15°","R":20,"lo":0,"hi":0.01},{"t":"768Myrs","s":"JHC 15°","R":30,"lo":0.01,"hi":0.03},{"t":"768Myrs","s":"JHC 15°","R":40,"lo":0.04,"hi":0.08},{"t":"768Myrs","s":"JHC 15°","R":50,"lo":0.12,"hi":0.2},{"t":"768Myrs","s":"JHC 15°","R":60,"lo":0.25,"hi":0.35},{"t":"768Myrs","s":"JHC 15°","R":70,"lo":0.4,"hi":0.52},{"t":"768Myrs","s":"JHC 15°","R":80,"lo":0.55,"hi":0.7},{"t":"768Myrs","s":"JHC 15°","R":90,"lo":0.72,"hi":0.9},{"t":"768Myrs","s":"JHC 15°","R":100,"lo":0.9,"hi":1.08},{"t":"768Myrs","s":"JHC 15°","R":110,"lo":1.05,"hi":1.25},{"t":"768Myrs","s":"JHC 15°","R":120,"lo":1.2,"hi":1.45},{"t":"768Myrs","s":"JHC 15°","R":130,"lo":1.35,"hi":1.72},{"t":"768Myrs","s":"JHC 15°","R":140,"lo":1.4,"hi":1.88},{"t":"768Myrs","s":"JHC 15°","R":150,"lo":1.38,"hi":1.9},{"t":"768Myrs","s":"JHC 15°","R":160,"lo":1.32,"hi":1.82},{"t":"768Myrs","s":"JHC 15°","R":170,"lo":1.25,"hi":1.7},{"t":"768Myrs","s":"JHC 15°","R":180,"lo":1.15,"hi":1.66},{"t":"768Myrs","s":"JHC 15°","R":190,"lo":1.05,"hi":1.64},{"t":"768Myrs","s":"JHC 15°","R":200,"lo":0.95,"hi":1.62},{"t":"768Myrs","s":"JHC 15°","R":210,"lo":0.88,"hi":1.58},{"t":"768Myrs","s":"JHC 15°","R":220,"lo":0.8,"hi":1.5},{"t":"768Myrs","s":"JHC 15°","R":230,"lo":0.75,"hi":1.42},{"t":"768Myrs","s":"JHC 15°","R":240,"lo":0.7,"hi":1.35},{"t":"768Myrs","s":"JHC 15°","R":250,"lo":0.66,"hi":1.28},
{"t":"768Myrs","s":"NJHC 15°","R":0,"lo":0,"hi":0},{"t":"768Myrs","s":"NJHC 15°","R":10,"lo":0,"hi":0.01},{"t":"768Myrs","s":"NJHC 15°","R":20,"lo":0.01,"hi":0.02},{"t":"768Myrs","s":"NJHC 15°","R":30,"lo":0.03,"hi":0.06},{"t":"768Myrs","s":"NJHC 15°","R":40,"lo":0.08,"hi":0.15},{"t":"768Myrs","s":"NJHC 15°","R":50,"lo":0.25,"hi":0.45},{"t":"768Myrs","s":"NJHC 15°","R":60,"lo":0.45,"hi":0.75},{"t":"768Myrs","s":"NJHC 15°","R":70,"lo":0.65,"hi":1.0},{"t":"768Myrs","s":"NJHC 15°","R":80,"lo":0.85,"hi":1.18},{"t":"768Myrs","s":"NJHC 15°","R":90,"lo":1.0,"hi":1.32},{"t":"768Myrs","s":"NJHC 15°","R":100,"lo":1.12,"hi":1.42},{"t":"768Myrs","s":"NJHC 15°","R":110,"lo":1.2,"hi":1.5},{"t":"768Myrs","s":"NJHC 15°","R":120,"lo":1.25,"hi":1.53},{"t":"768Myrs","s":"NJHC 15°","R":130,"lo":1.24,"hi":1.52},{"t":"768Myrs","s":"NJHC 15°","R":140,"lo":1.2,"hi":1.48},{"t":"768Myrs","s":"NJHC 15°","R":150,"lo":1.12,"hi":1.38},{"t":"768Myrs","s":"NJHC 15°","R":160,"lo":1.02,"hi":1.25},{"t":"768Myrs","s":"NJHC 15°","R":170,"lo":0.92,"hi":1.12},{"t":"768Myrs","s":"NJHC 15°","R":180,"lo":0.84,"hi":1.02},{"t":"768Myrs","s":"NJHC 15°","R":190,"lo":0.78,"hi":0.95},{"t":"768Myrs","s":"NJHC 15°","R":200,"lo":0.73,"hi":0.9},{"t":"768Myrs","s":"NJHC 15°","R":210,"lo":0.68,"hi":0.85},{"t":"768Myrs","s":"NJHC 15°","R":220,"lo":0.64,"hi":0.8},{"t":"768Myrs","s":"NJHC 15°","R":230,"lo":0.61,"hi":0.77},{"t":"768Myrs","s":"NJHC 15°","R":240,"lo":0.58,"hi":0.74},{"t":"768Myrs","s":"NJHC 15°","R":250,"lo":0.56,"hi":0.72},

{"t":"1024Myrs","s":"JHC 30°","R":0,"lo":0,"hi":0.02},{"t":"1024Myrs","s":"JHC 30°","R":10,"lo":0.01,"hi":0.02},{"t":"1024Myrs","s":"JHC 30°","R":20,"lo":0.02,"hi":0.05},{"t":"1024Myrs","s":"JHC 30°","R":30,"lo":0.05,"hi":0.1},{"t":"1024Myrs","s":"JHC 30°","R":40,"lo":0.15,"hi":0.25},{"t":"1024Myrs","s":"JHC 30°","R":50,"lo":0.35,"hi":0.5},{"t":"1024Myrs","s":"JHC 30°","R":60,"lo":0.9,"hi":1.1},{"t":"1024Myrs","s":"JHC 30°","R":70,"lo":1.6,"hi":1.8},{"t":"1024Myrs","s":"JHC 30°","R":80,"lo":2.4,"hi":2.6},{"t":"1024Myrs","s":"JHC 30°","R":90,"lo":3.2,"hi":3.4},{"t":"1024Myrs","s":"JHC 30°","R":100,"lo":4.2,"hi":4.4},{"t":"1024Myrs","s":"JHC 30°","R":110,"lo":5.4,"hi":5.6},{"t":"1024Myrs","s":"JHC 30°","R":120,"lo":6.3,"hi":6.45},{"t":"1024Myrs","s":"JHC 30°","R":130,"lo":6.38,"hi":7.1},{"t":"1024Myrs","s":"JHC 30°","R":140,"lo":5.95,"hi":7.45},{"t":"1024Myrs","s":"JHC 30°","R":150,"lo":5.45,"hi":7.6},{"t":"1024Myrs","s":"JHC 30°","R":160,"lo":5.15,"hi":7.52},{"t":"1024Myrs","s":"JHC 30°","R":170,"lo":4.95,"hi":7.2},{"t":"1024Myrs","s":"JHC 30°","R":180,"lo":4.82,"hi":6.95},{"t":"1024Myrs","s":"JHC 30°","R":190,"lo":4.55,"hi":6.78},{"t":"1024Myrs","s":"JHC 30°","R":200,"lo":4.28,"hi":6.6},{"t":"1024Myrs","s":"JHC 30°","R":210,"lo":4.0,"hi":6.3},{"t":"1024Myrs","s":"JHC 30°","R":220,"lo":3.72,"hi":6.0},{"t":"1024Myrs","s":"JHC 30°","R":230,"lo":3.45,"hi":5.7},{"t":"1024Myrs","s":"JHC 30°","R":240,"lo":3.18,"hi":5.35},{"t":"1024Myrs","s":"JHC 30°","R":250,"lo":2.9,"hi":5.03},
{"t":"1024Myrs","s":"NJHC 30°","R":0,"lo":0,"hi":0.02},{"t":"1024Myrs","s":"NJHC 30°","R":10,"lo":0.01,"hi":0.03},{"t":"1024Myrs","s":"NJHC 30°","R":20,"lo":0.04,"hi":0.07},{"t":"1024Myrs","s":"NJHC 30°","R":30,"lo":0.09,"hi":0.15},{"t":"1024Myrs","s":"NJHC 30°","R":40,"lo":0.25,"hi":0.45},{"t":"1024Myrs","s":"NJHC 30°","R":50,"lo":0.5,"hi":1.0},{"t":"1024Myrs","s":"NJHC 30°","R":60,"lo":1.1,"hi":2.1},{"t":"1024Myrs","s":"NJHC 30°","R":70,"lo":1.8,"hi":3.0},{"t":"1024Myrs","s":"NJHC 30°","R":80,"lo":2.6,"hi":3.7},{"t":"1024Myrs","s":"NJHC 30°","R":90,"lo":3.4,"hi":4.5},{"t":"1024Myrs","s":"NJHC 30°","R":100,"lo":4.4,"hi":5.45},{"t":"1024Myrs","s":"NJHC 30°","R":110,"lo":5.6,"hi":6.2},{"t":"1024Myrs","s":"NJHC 30°","R":120,"lo":6.4,"hi":6.5},{"t":"1024Myrs","s":"NJHC 30°","R":130,"lo":6.38,"hi":6.48},{"t":"1024Myrs","s":"NJHC 30°","R":140,"lo":5.95,"hi":6.05},{"t":"1024Myrs","s":"NJHC 30°","R":150,"lo":5.45,"hi":5.55},{"t":"1024Myrs","s":"NJHC 30°","R":160,"lo":5.15,"hi":5.25},{"t":"1024Myrs","s":"NJHC 30°","R":170,"lo":4.95,"hi":5.05},{"t":"1024Myrs","s":"NJHC 30°","R":180,"lo":4.82,"hi":4.92},{"t":"1024Myrs","s":"NJHC 30°","R":190,"lo":4.55,"hi":4.65},{"t":"1024Myrs","s":"NJHC 30°","R":200,"lo":4.28,"hi":4.38},{"t":"1024Myrs","s":"NJHC 30°","R":210,"lo":4.0,"hi":4.1},{"t":"1024Myrs","s":"NJHC 30°","R":220,"lo":3.72,"hi":3.82},{"t":"1024Myrs","s":"NJHC 30°","R":230,"lo":3.45,"hi":3.55},{"t":"1024Myrs","s":"NJHC 30°","R":240,"lo":3.18,"hi":3.28},{"t":"1024Myrs","s":"NJHC 30°","R":250,"lo":2.9,"hi":3.0},
{"t":"1024Myrs","s":"JHC 15°","R":0,"lo":0,"hi":0},{"t":"1024Myrs","s":"JHC 15°","R":10,"lo":0,"hi":0.01},{"t":"1024Myrs","s":"JHC 15°","R":20,"lo":0.01,"hi":0.02},{"t":"1024Myrs","s":"JHC 15°","R":30,"lo":0.02,"hi":0.05},{"t":"1024Myrs","s":"JHC 15°","R":40,"lo":0.06,"hi":0.12},{"t":"1024Myrs","s":"JHC 15°","R":50,"lo":0.12,"hi":0.22},{"t":"1024Myrs","s":"JHC 15°","R":60,"lo":0.22,"hi":0.35},{"t":"1024Myrs","s":"JHC 15°","R":70,"lo":0.35,"hi":0.52},{"t":"1024Myrs","s":"JHC 15°","R":80,"lo":0.55,"hi":0.78},{"t":"1024Myrs","s":"JHC 15°","R":90,"lo":0.85,"hi":1.1},{"t":"1024Myrs","s":"JHC 15°","R":100,"lo":1.2,"hi":1.45},{"t":"1024Myrs","s":"JHC 15°","R":110,"lo":1.4,"hi":1.65},{"t":"1024Myrs","s":"JHC 15°","R":120,"lo":1.6,"hi":1.85},{"t":"1024Myrs","s":"JHC 15°","R":130,"lo":1.8,"hi":2.25},{"t":"1024Myrs","s":"JHC 15°","R":140,"lo":1.85,"hi":2.5},{"t":"1024Myrs","s":"JHC 15°","R":150,"lo":1.8,"hi":2.6},{"t":"1024Myrs","s":"JHC 15°","R":160,"lo":1.65,"hi":2.58},{"t":"1024Myrs","s":"JHC 15°","R":170,"lo":1.5,"hi":2.4},{"t":"1024Myrs","s":"JHC 15°","R":180,"lo":1.42,"hi":2.3},{"t":"1024Myrs","s":"JHC 15°","R":190,"lo":1.36,"hi":2.34},{"t":"1024Myrs","s":"JHC 15°","R":200,"lo":1.3,"hi":2.35},{"t":"1024Myrs","s":"JHC 15°","R":210,"lo":1.25,"hi":2.28},{"t":"1024Myrs","s":"JHC 15°","R":220,"lo":1.2,"hi":2.18},{"t":"1024Myrs","s":"JHC 15°","R":230,"lo":1.16,"hi":2.05},{"t":"1024Myrs","s":"JHC 15°","R":240,"lo":1.12,"hi":1.95},{"t":"1024Myrs","s":"JHC 15°","R":250,"lo":1.1,"hi":1.85},
{"t":"1024Myrs","s":"NJHC 15°","R":0,"lo":0,"hi":0},{"t":"1024Myrs","s":"NJHC 15°","R":10,"lo":0,"hi":0.01},{"t":"1024Myrs","s":"NJHC 15°","R":20,"lo":0.01,"hi":0.03},{"t":"1024Myrs","s":"NJHC 15°","R":30,"lo":0.04,"hi":0.08},{"t":"1024Myrs","s":"NJHC 15°","R":40,"lo":0.1,"hi":0.2},{"t":"1024Myrs","s":"NJHC 15°","R":50,"lo":0.22,"hi":0.4},{"t":"1024Myrs","s":"NJHC 15°","R":60,"lo":0.38,"hi":0.65},{"t":"1024Myrs","s":"NJHC 15°","R":70,"lo":0.55,"hi":0.95},{"t":"1024Myrs","s":"NJHC 15°","R":80,"lo":0.8,"hi":1.3},{"t":"1024Myrs","s":"NJHC 15°","R":90,"lo":1.1,"hi":1.65},{"t":"1024Myrs","s":"NJHC 15°","R":100,"lo":1.4,"hi":1.9},{"t":"1024Myrs","s":"NJHC 15°","R":110,"lo":1.62,"hi":2.05},{"t":"1024Myrs","s":"NJHC 15°","R":120,"lo":1.75,"hi":2.06},{"t":"1024Myrs","s":"NJHC 15°","R":130,"lo":1.72,"hi":2.0},{"t":"1024Myrs","s":"NJHC 15°","R":140,"lo":1.62,"hi":1.9},{"t":"1024Myrs","s":"NJHC 15°","R":150,"lo":1.5,"hi":1.78},{"t":"1024Myrs","s":"NJHC 15°","R":160,"lo":1.38,"hi":1.65},{"t":"1024Myrs","s":"NJHC 15°","R":170,"lo":1.27,"hi":1.52},{"t":"1024Myrs","s":"NJHC 15°","R":180,"lo":1.18,"hi":1.42},{"t":"1024Myrs","s":"NJHC 15°","R":190,"lo":1.11,"hi":1.35},{"t":"1024Myrs","s":"NJHC 15°","R":200,"lo":1.05,"hi":1.28},{"t":"1024Myrs","s":"NJHC 15°","R":210,"lo":1.0,"hi":1.22},{"t":"1024Myrs","s":"NJHC 15°","R":220,"lo":0.96,"hi":1.16},{"t":"1024Myrs","s":"NJHC 15°","R":230,"lo":0.93,"hi":1.12},{"t":"1024Myrs","s":"NJHC 15°","R":240,"lo":0.9,"hi":1.08},{"t":"1024Myrs","s":"NJHC 15°","R":250,"lo":0.88,"hi":1.05}
]},
"concat": [
  {"width": 165, "height": 103, "transform": [{"filter": "datum.t == '64Myrs'"}],
   "encoding": {
    "x": {"field": "R", "type": "quantitative", "scale": {"domain": [0, 252], "nice": false}, "axis": null},
    "y": {"field": "lo", "type": "quantitative", "scale": {"domain": [-0.55, 9.15], "nice": false, "zero": false}, "axis": {"values": [0, 2, 4, 6, 8], "title": null}},
    "y2": {"field": "hi"},
    "color": {"field": "s", "type": "nominal", "scale": {"domain": ["JHC 30°", "NJHC 30°", "JHC 15°", "NJHC 15°"], "range": ["#1f77b4", "#ff7f0e", "#bcd6e8", "#ffd9b7"]}, "legend": {"title": null}},
    "stroke": {"field": "s", "type": "nominal", "scale": {"domain": ["JHC 30°", "NJHC 30°", "JHC 15°", "NJHC 15°"], "range": ["#1f77b4", "#ff7f0e", "#a3c6e0", "#ffc999"]}, "legend": null}},
   "layer": [
    {"transform": [{"filter": "datum.s == 'JHC 15°'"}], "mark": {"type": "area", "strokeWidth": 1}},
    {"transform": [{"filter": "datum.s == 'NJHC 15°'"}], "mark": {"type": "area", "strokeWidth": 1}},
    {"transform": [{"filter": "datum.s == 'JHC 30°'"}], "mark": {"type": "area", "strokeWidth": 1}},
    {"transform": [{"filter": "datum.s == 'NJHC 30°'"}], "mark": {"type": "area", "strokeWidth": 1}},
    {"transform": [{"filter": "datum.R == 0 && datum.s == 'JHC 30°'"}], "mark": {"type": "text", "align": "left", "baseline": "middle", "fontSize": 11, "font": "DejaVu Sans", "fontWeight": "normal", "fill": "#000", "strokeWidth": 0},
     "encoding": {"x": {"datum": 167, "type": "quantitative"}, "y": {"datum": 8.05, "type": "quantitative"}, "y2": null, "color": null, "stroke": null, "text": {"field": "t"}}}
   ]},
  {"width": 165, "height": 103, "transform": [{"filter": "datum.t == '128Myrs'"}],
   "encoding": {
    "x": {"field": "R", "type": "quantitative", "scale": {"domain": [0, 252], "nice": false}, "axis": null},
    "y": {"field": "lo", "type": "quantitative", "scale": {"domain": [-0.55, 9.15], "nice": false, "zero": false}, "axis": {"values": [0, 2, 4, 6, 8], "labels": false, "title": null}},
    "y2": {"field": "hi"},
    "color": {"field": "s", "type": "nominal", "scale": {"domain": ["JHC 30°", "NJHC 30°", "JHC 15°", "NJHC 15°"], "range": ["#1f77b4", "#ff7f0e", "#bcd6e8", "#ffd9b7"]}, "legend": {"title": null}},
    "stroke": {"field": "s", "type": "nominal", "scale": {"domain": ["JHC 30°", "NJHC 30°", "JHC 15°", "NJHC 15°"], "range": ["#1f77b4", "#ff7f0e", "#a3c6e0", "#ffc999"]}, "legend": null}},
   "layer": [
    {"transform": [{"filter": "datum.s == 'JHC 15°'"}], "mark": {"type": "area", "strokeWidth": 1}},
    {"transform": [{"filter": "datum.s == 'NJHC 15°'"}], "mark": {"type": "area", "strokeWidth": 1}},
    {"transform": [{"filter": "datum.s == 'JHC 30°'"}], "mark": {"type": "area", "strokeWidth": 1}},
    {"transform": [{"filter": "datum.s == 'NJHC 30°'"}], "mark": {"type": "area", "strokeWidth": 1}},
    {"transform": [{"filter": "datum.R == 0 && datum.s == 'JHC 30°'"}], "mark": {"type": "text", "align": "left", "baseline": "middle", "fontSize": 11, "font": "DejaVu Sans", "fontWeight": "normal", "fill": "#000", "strokeWidth": 0},
     "encoding": {"x": {"datum": 167, "type": "quantitative"}, "y": {"datum": 8.05, "type": "quantitative"}, "y2": null, "color": null, "stroke": null, "text": {"field": "t"}}}
   ]},
  {"width": 165, "height": 103, "transform": [{"filter": "datum.t == '256Myrs'"}],
   "encoding": {
    "x": {"field": "R", "type": "quantitative", "scale": {"domain": [0, 252], "nice": false}, "axis": null},
    "y": {"field": "lo", "type": "quantitative", "scale": {"domain": [-0.55, 9.15], "nice": false, "zero": false}, "axis": {"values": [0, 2, 4, 6, 8], "title": "Hcone(< R) [10⁵⁸ ergs]"}},
    "y2": {"field": "hi"},
    "color": {"field": "s", "type": "nominal", "scale": {"domain": ["JHC 30°", "NJHC 30°", "JHC 15°", "NJHC 15°"], "range": ["#1f77b4", "#ff7f0e", "#bcd6e8", "#ffd9b7"]}, "legend": {"title": null}},
    "stroke": {"field": "s", "type": "nominal", "scale": {"domain": ["JHC 30°", "NJHC 30°", "JHC 15°", "NJHC 15°"], "range": ["#1f77b4", "#ff7f0e", "#a3c6e0", "#ffc999"]}, "legend": null}},
   "layer": [
    {"transform": [{"filter": "datum.s == 'JHC 15°'"}], "mark": {"type": "area", "strokeWidth": 1}},
    {"transform": [{"filter": "datum.s == 'NJHC 15°'"}], "mark": {"type": "area", "strokeWidth": 1}},
    {"transform": [{"filter": "datum.s == 'JHC 30°'"}], "mark": {"type": "area", "strokeWidth": 1}},
    {"transform": [{"filter": "datum.s == 'NJHC 30°'"}], "mark": {"type": "area", "strokeWidth": 1}},
    {"transform": [{"filter": "datum.R == 0 && datum.s == 'JHC 30°'"}], "mark": {"type": "text", "align": "left", "baseline": "middle", "fontSize": 11, "font": "DejaVu Sans", "fontWeight": "normal", "fill": "#000", "strokeWidth": 0},
     "encoding": {"x": {"datum": 167, "type": "quantitative"}, "y": {"datum": 8.05, "type": "quantitative"}, "y2": null, "color": null, "stroke": null, "text": {"field": "t"}}}
   ]},
  {"width": 165, "height": 103, "transform": [{"filter": "datum.t == '512Myrs'"}],
   "encoding": {
    "x": {"field": "R", "type": "quantitative", "scale": {"domain": [0, 252], "nice": false}, "axis": null},
    "y": {"field": "lo", "type": "quantitative", "scale": {"domain": [-0.55, 9.15], "nice": false, "zero": false}, "axis": {"values": [0, 2, 4, 6, 8], "labels": false, "title": null}},
    "y2": {"field": "hi"},
    "color": {"field": "s", "type": "nominal", "scale": {"domain": ["JHC 30°", "NJHC 30°", "JHC 15°", "NJHC 15°"], "range": ["#1f77b4", "#ff7f0e", "#bcd6e8", "#ffd9b7"]}, "legend": {"title": null}},
    "stroke": {"field": "s", "type": "nominal", "scale": {"domain": ["JHC 30°", "NJHC 30°", "JHC 15°", "NJHC 15°"], "range": ["#1f77b4", "#ff7f0e", "#a3c6e0", "#ffc999"]}, "legend": null}},
   "layer": [
    {"transform": [{"filter": "datum.s == 'JHC 15°'"}], "mark": {"type": "area", "strokeWidth": 1}},
    {"transform": [{"filter": "datum.s == 'NJHC 15°'"}], "mark": {"type": "area", "strokeWidth": 1}},
    {"transform": [{"filter": "datum.s == 'JHC 30°'"}], "mark": {"type": "area", "strokeWidth": 1}},
    {"transform": [{"filter": "datum.s == 'NJHC 30°'"}], "mark": {"type": "area", "strokeWidth": 1}},
    {"transform": [{"filter": "datum.R == 0 && datum.s == 'JHC 30°'"}], "mark": {"type": "text", "align": "left", "baseline": "middle", "fontSize": 11, "font": "DejaVu Sans", "fontWeight": "normal", "fill": "#000", "strokeWidth": 0},
     "encoding": {"x": {"datum": 167, "type": "quantitative"}, "y": {"datum": 8.05, "type": "quantitative"}, "y2": null, "color": null, "stroke": null, "text": {"field": "t"}}}
   ]},
  {"width": 165, "height": 103, "transform": [{"filter": "datum.t == '768Myrs'"}],
   "encoding": {
    "x": {"field": "R", "type": "quantitative", "scale": {"domain": [0, 252], "nice": false}, "axis": {"values": [0, 100, 200], "title": "R [kpc]", "titleX": 172}},
    "y": {"field": "lo", "type": "quantitative", "scale": {"domain": [-0.55, 9.15], "nice": false, "zero": false}, "axis": {"values": [0, 2, 4, 6, 8], "title": null}},
    "y2": {"field": "hi"},
    "color": {"field": "s", "type": "nominal", "scale": {"domain": ["JHC 30°", "NJHC 30°", "JHC 15°", "NJHC 15°"], "range": ["#1f77b4", "#ff7f0e", "#bcd6e8", "#ffd9b7"]}, "legend": {"title": null}},
    "stroke": {"field": "s", "type": "nominal", "scale": {"domain": ["JHC 30°", "NJHC 30°", "JHC 15°", "NJHC 15°"], "range": ["#1f77b4", "#ff7f0e", "#a3c6e0", "#ffc999"]}, "legend": null}},
   "layer": [
    {"transform": [{"filter": "datum.s == 'JHC 15°'"}], "mark": {"type": "area", "strokeWidth": 1}},
    {"transform": [{"filter": "datum.s == 'NJHC 15°'"}], "mark": {"type": "area", "strokeWidth": 1}},
    {"transform": [{"filter": "datum.s == 'JHC 30°'"}], "mark": {"type": "area", "strokeWidth": 1}},
    {"transform": [{"filter": "datum.s == 'NJHC 30°'"}], "mark": {"type": "area", "strokeWidth": 1}},
    {"transform": [{"filter": "datum.R == 0 && datum.s == 'JHC 30°'"}], "mark": {"type": "text", "align": "left", "baseline": "middle", "fontSize": 11, "font": "DejaVu Sans", "fontWeight": "normal", "fill": "#000", "strokeWidth": 0},
     "encoding": {"x": {"datum": 167, "type": "quantitative"}, "y": {"datum": 8.05, "type": "quantitative"}, "y2": null, "color": null, "stroke": null, "text": {"field": "t"}}}
   ]},
  {"width": 165, "height": 103, "transform": [{"filter": "datum.t == '1024Myrs'"}],
   "encoding": {
    "x": {"field": "R", "type": "quantitative", "scale": {"domain": [0, 252], "nice": false}, "axis": {"values": [0, 100, 200], "title": null}},
    "y": {"field": "lo", "type": "quantitative", "scale": {"domain": [-0.55, 9.15], "nice": false, "zero": false}, "axis": {"values": [0, 2, 4, 6, 8], "labels": false, "title": null}},
    "y2": {"field": "hi"},
    "color": {"field": "s", "type": "nominal", "scale": {"domain": ["JHC 30°", "NJHC 30°", "JHC 15°", "NJHC 15°"], "range": ["#1f77b4", "#ff7f0e", "#bcd6e8", "#ffd9b7"]}, "legend": {"title": null}},
    "stroke": {"field": "s", "type": "nominal", "scale": {"domain": ["JHC 30°", "NJHC 30°", "JHC 15°", "NJHC 15°"], "range": ["#1f77b4", "#ff7f0e", "#a3c6e0", "#ffc999"]}, "legend": null}},
   "layer": [
    {"transform": [{"filter": "datum.s == 'JHC 15°'"}], "mark": {"type": "area", "strokeWidth": 1}},
    {"transform": [{"filter": "datum.s == 'NJHC 15°'"}], "mark": {"type": "area", "strokeWidth": 1}},
    {"transform": [{"filter": "datum.s == 'JHC 30°'"}], "mark": {"type": "area", "strokeWidth": 1}},
    {"transform": [{"filter": "datum.s == 'NJHC 30°'"}], "mark": {"type": "area", "strokeWidth": 1}},
    {"transform": [{"filter": "datum.R == 0 && datum.s == 'JHC 30°'"}], "mark": {"type": "text", "align": "left", "baseline": "middle", "fontSize": 11, "font": "DejaVu Sans", "fontWeight": "normal", "fill": "#000", "strokeWidth": 0},
     "encoding": {"x": {"datum": 167, "type": "quantitative"}, "y": {"datum": 8.05, "type": "quantitative"}, "y2": null, "color": null, "stroke": null, "text": {"field": "t"}}}
   ]}
],
"config": {
  "font": "DejaVu Sans",
  "view": {"stroke": "#000", "strokeWidth": 1},
  "axis": {"grid": false, "domain": false, "tickColor": "#000", "tickSize": 4, "labelColor": "#000", "labelFontSize": 11, "labelFont": "DejaVu Sans", "titleFont": "DejaVu Sans", "titleFontSize": 13, "titleFontWeight": "normal", "titleColor": "#000", "labelPadding": 3},
  "axisX": {"titlePadding": 3},
  "axisY": {"titlePadding": 6},
  "legend": {"orient": "none", "legendX": 6, "legendY": 5, "symbolType": "M-1.7,-0.64H1.7V0.64H-1.7Z", "symbolSize": 196, "symbolOffset": 5, "symbolStrokeWidth": 0, "fillColor": "rgba(255,255,255,0.8)", "strokeColor": "#cccccc", "cornerRadius": 3, "padding": 4, "labelFont": "DejaVu Sans", "labelFontSize": 11, "labelColor": "#000", "rowPadding": 2, "labelOffset": 13}
}
}
